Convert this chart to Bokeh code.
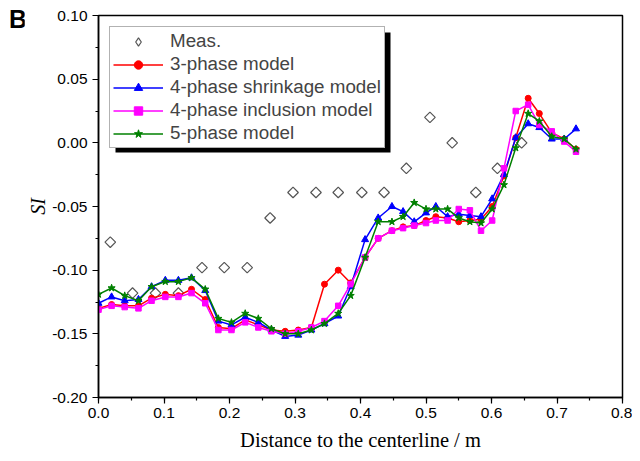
import numpy as np
from bokeh.plotting import figure
from bokeh.layouts import row
from bokeh.models import (Legend, LegendItem, SingleIntervalTicker, NumeralTickFormatter,
                          BoxAnnotation, Div)
from bokeh.embed import file_html
from bokeh.resources import INLINE

# ---- data ----
meas_x = [0.018, 0.052, 0.087, 0.122, 0.158, 0.192, 0.227, 0.262, 0.297, 0.332,
          0.366, 0.402, 0.436, 0.470, 0.506, 0.540, 0.576, 0.609, 0.646]
meas_y = [-0.078, -0.118, -0.118, -0.118, -0.098, -0.098, -0.098, -0.059, -0.039, -0.039,
          -0.039, -0.039, -0.039, -0.020, 0.020, 0.000, -0.039, -0.020, 0.000]

model_x = [0.000, 0.020, 0.040, 0.061, 0.081, 0.102, 0.122, 0.142, 0.163, 0.183,
           0.203, 0.224, 0.244, 0.264, 0.285, 0.305, 0.325, 0.345, 0.366, 0.385,
           0.407, 0.427, 0.448, 0.465, 0.482, 0.500, 0.515, 0.533, 0.550, 0.567,
           0.584, 0.601, 0.619, 0.637, 0.656, 0.673, 0.692, 0.711, 0.729]

phase3 = [-0.130, -0.127, -0.128, -0.128, -0.122, -0.119, -0.120, -0.115, -0.123, -0.145,
          -0.146, -0.139, -0.143, -0.147, -0.148, -0.147, -0.145, -0.111, -0.100, -0.110,
          -0.090, -0.075, -0.069, -0.066, -0.065, -0.061, -0.058, -0.059, -0.062, -0.061,
          -0.060, -0.050, -0.026, 0.004, 0.035, 0.023, 0.008, 0.003, -0.005]

phase4_shrink = [-0.126, -0.121, -0.124, -0.123, -0.113, -0.108, -0.108, -0.106, -0.116, -0.140,
                 -0.143, -0.137, -0.141, -0.147, -0.152, -0.151, -0.147, -0.142, -0.136, -0.113,
                 -0.076, -0.059, -0.050, -0.054, -0.062, -0.055, -0.050, -0.058, -0.056, -0.057,
                 -0.058, -0.044, -0.025, 0.004, 0.015, 0.012, 0.003, 0.003, 0.011]

phase4_incl = [-0.131, -0.128, -0.129, -0.130, -0.124, -0.121, -0.121, -0.118, -0.126, -0.147,
               -0.147, -0.141, -0.145, -0.148, -0.150, -0.148, -0.145, -0.140, -0.128, -0.111,
               -0.090, -0.075, -0.069, -0.067, -0.065, -0.063, -0.061, -0.061, -0.052, -0.053,
               -0.069, -0.061, -0.020, 0.025, 0.030, 0.014, 0.009, 0.001, -0.007]

phase5 = [-0.119, -0.114, -0.120, -0.124, -0.113, -0.109, -0.109, -0.106, -0.115, -0.138,
          -0.141, -0.134, -0.138, -0.146, -0.150, -0.150, -0.147, -0.142, -0.134, -0.120,
          -0.090, -0.062, -0.062, -0.058, -0.047, -0.052, -0.052, -0.052, -0.059, -0.062,
          -0.063, -0.052, -0.033, -0.004, 0.023, 0.017, 0.005, 0.003, -0.005]

x_ticks_interval = 0.1
y_ticks_interval = 0.05

# ---- figure ----
p = figure(frame_width=524, frame_height=382, x_range=(0, 0.8), y_range=(-0.2, 0.1),
           output_backend="svg", toolbar_location=None,
           min_border_left=72, min_border_right=10, min_border_top=15, min_border_bottom=58)
p.xgrid.visible = False
p.ygrid.visible = False
p.outline_line_color = "black"
p.outline_line_width = 1.5
p.background_fill_color = "white"
p.border_fill_color = "white"

p.xaxis.ticker = SingleIntervalTicker(interval=x_ticks_interval, num_minor_ticks=2)
p.yaxis.ticker = SingleIntervalTicker(interval=y_ticks_interval, num_minor_ticks=2)
p.xaxis.formatter = NumeralTickFormatter(format="0.0")
p.yaxis.formatter = NumeralTickFormatter(format="0.00")
for ax in (p.xaxis, p.yaxis):
    ax.axis_line_width = 1.5
    ax.axis_line_color = "black"
    ax.major_tick_in = 0
    ax.major_tick_out = 6
    ax.minor_tick_in = 0
    ax.minor_tick_out = 3
    ax.major_tick_line_width = 1.2
    ax.minor_tick_line_width = 1.2
    ax.major_label_text_font = "Liberation Sans"
    ax.major_label_text_font_size = "15.5px"
    ax.major_label_text_color = "black"
    ax.axis_label_text_color = "black"
    ax.axis_label_text_font = "Liberation Serif"
p.xaxis.major_label_standoff = 4
p.yaxis.major_label_standoff = 5
p.xaxis.axis_label = "Distance to the centerline / m"
p.xaxis.axis_label_text_font_size = "20.5px"
p.xaxis.axis_label_text_font_style = "normal"
p.xaxis.axis_label_standoff = 8
p.yaxis.axis_label = "SI"
p.yaxis.axis_label_text_font_size = "20px"
p.yaxis.axis_label_text_font_style = "italic"
p.yaxis.axis_label_standoff = 0

# ---- glyphs ----
meas_r = p.scatter(meas_x, meas_y, marker="square", angle=np.pi / 4, size=7.5,
                   fill_color=None, line_color="#555555", line_width=1.2)
# legend-only symbol (legend glyphs ignore angle); NaN point draws nothing in the plot
meas_leg = p.scatter(x=[np.nan], y=[np.nan], marker="diamond", fill_color=None,
                     line_color="#555555", line_width=1.2)

series = [
    ("3-phase model", phase3, "#ff0000", "circle", 6),
    ("4-phase shrinkage model", phase4_shrink, "#0000ff", "triangle", 7),
    ("4-phase inclusion model", phase4_incl, "#ff00ff", "square", 5.5),
    ("5-phase model", phase5, "#008000", "star", 7.5),
]
items = [LegendItem(label="Meas.", renderers=[meas_leg])]
for name, ys, col, mk, sz in series:
    lr = p.line(model_x, ys, line_color=col, line_width=1.5)
    mr = p.scatter(model_x, ys, marker=mk, size=sz, fill_color=col, line_color=col)
    items.append(LegendItem(label=name, renderers=[lr, mr]))

# legend shadow
shadow = BoxAnnotation(left=17, right=292, top=365, bottom=245,
                       left_units="screen", right_units="screen",
                       top_units="screen", bottom_units="screen",
                       fill_color="black", fill_alpha=1.0, line_color=None)
p.add_layout(shadow)

legend = Legend(items=items, location="top_left", margin=11, padding=3, spacing=1,
                glyph_width=50, glyph_height=21, label_height=21, label_standoff=7,
                label_text_font="Liberation Sans", label_text_font_size="18.8px",
                border_line_color="#666666", border_line_width=1,
                background_fill_color="white", background_fill_alpha=1.0)
p.add_layout(legend)

panel_tag = Div(text="B", width=24, height=60, margin=0,
                styles={"font-family": "Liberation Sans", "font-weight": "bold",
                        "font-size": "25px", "padding-top": "5px", "padding-left": "9px",
                        "line-height": "normal", "color": "black", "overflow": "visible"})

layout = row(panel_tag, p, spacing=0)
open("out.html", "w").write(file_html(layout, INLINE))
